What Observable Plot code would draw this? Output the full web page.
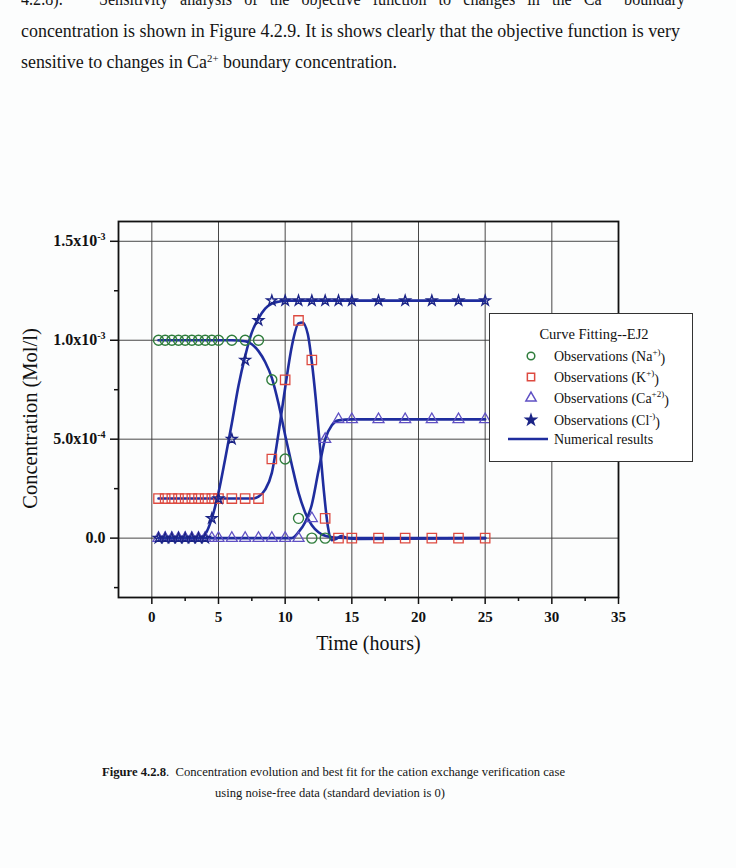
<!DOCTYPE html>
<html><head><meta charset="utf-8">
<script src="https://cdn.jsdelivr.net/npm/d3@7"></script>
<script src="https://cdn.jsdelivr.net/npm/@observablehq/plot@0.6"></script>
<style>
html,body{margin:0;padding:0;background:#fcfdfd;}
#page{position:relative;width:736px;height:868px;overflow:hidden;font-family:"Liberation Serif","Times New Roman",serif;color:#151515;}
.line{position:absolute;white-space:nowrap;transform-origin:0 50%;line-height:1;}
.line sup{font-size:60%;vertical-align:0.55em;line-height:0;}
#chart{position:absolute;left:0;top:200px;}
#legend{position:absolute;left:489px;top:313px;width:202px;height:147px;border:1.5px solid #333;background:#fff;}
</style></head><body><div id="page"><div id="chart"></div><div id="legend"></div></div>
<script>
// ---------- data ----------
const naTime = [0.5,1,1.5,2,2.5,3,3.5,4,4.5,5,6,7,8,9,10,11,12,13];
const naObs  = [1e-3,1e-3,1e-3,1e-3,1e-3,1e-3,1e-3,1e-3,1e-3,1e-3,1e-3,1e-3,1e-3,8e-4,4e-4,1e-4,0,0];
const kTime  = [0.5,1,1.5,2,2.5,3,3.5,4,4.5,5,6,7,8,9,10,11,12,13,14,15,17,19,21,23,25];
const kObs   = [2e-4,2e-4,2e-4,2e-4,2e-4,2e-4,2e-4,2e-4,2e-4,2e-4,2e-4,2e-4,2e-4,4e-4,8e-4,1.1e-3,9e-4,1e-4,0,0,0,0,0,0,0];
const caTime = [0.5,1,1.5,2,2.5,3,3.5,4,4.5,5,6,7,8,9,10,11,12,13,14,15,17,19,21,23,25];
const caObs  = [0,0,0,0,0,0,0,0,0,0,0,0,0,0,0,0,1e-4,5e-4,6e-4,6e-4,6e-4,6e-4,6e-4,6e-4,6e-4];
const clTime = [0.5,1,1.5,2,2.5,3,3.5,4,4.5,5,6,7,8,9,10,11,12,13,14,15,17,19,21,23,25];
const clObs  = [0,0,0,0,0,0,0,0,1e-4,2e-4,5e-4,9e-4,1.1e-3,1.2e-3,1.2e-3,1.2e-3,1.2e-3,1.2e-3,1.2e-3,1.2e-3,1.2e-3,1.2e-3,1.2e-3,1.2e-3,1.2e-3];

// numerical results
const naModelT = [0.5,6,7,7.5,8,8.5,9,9.5,10,10.5,11,11.5,12,12.5,13,14,15,25];
const naModelC = [1e-3,1e-3,0.995e-3,0.98e-3,0.945e-3,0.89e-3,0.81e-3,0.68e-3,0.52e-3,0.37e-3,0.23e-3,0.13e-3,0.065e-3,0.03e-3,0.012e-3,0.002e-3,0,0];
const kModelT = [0.5,7.5,8,8.5,9,9.5,10,10.5,11,11.3,11.7,12,12.3,12.6,12.9,13.2,13.5,13.8,14.2,14.7,15.5,25];
const kModelC = [2e-4,2e-4,2.1e-4,2.45e-4,3.3e-4,5.3e-4,7.6e-4,9.7e-4,1.085e-3,1.09e-3,1.03e-3,0.89e-3,0.7e-3,0.47e-3,0.24e-3,0.06e-3,-0.01e-3,-0.005e-3,0.01e-3,0,-0.004e-3,0];
const caModelT = [0.5,10.5,11,11.5,12,12.5,13,13.5,14,15,25];
const caModelC = [0,0,0.03e-3,0.08e-3,0.17e-3,0.34e-3,0.5e-3,0.57e-3,0.595e-3,0.6e-3,0.6e-3];
const clModelT = [0.5,3.5,4,4.5,5,5.5,6,6.5,7,7.5,8,8.5,9,9.5,10,11,25];
const clModelC = [0,0,0.02e-3,0.1e-3,0.23e-3,0.4e-3,0.58e-3,0.77e-3,0.92e-3,1.04e-3,1.11e-3,1.16e-3,1.185e-3,1.195e-3,1.2e-3,1.2e-3,1.2e-3];

const xTicks = [0,5,10,15,20,25,30,35];
const xMinor = [2.5,7.5,12.5,17.5,22.5,27.5,32.5];
const xGrid  = [0,5,10,15,20,25,30];
const yTicks = [0,5e-4,1e-3,1.5e-3];
const yTickBase = ["0.0","5.0x10","1.0x10","1.5x10"];
const yTickExp  = ["","-4","-3","-3"];
const yMinor = [-2.5e-4,2.5e-4,7.5e-4,1.25e-3];

const xTitle = "Time (hours)";
const yTitle = "Concentration (Mol/l)";
const legendTitle = "Curve Fitting--EJ2";
const legendLabels = ["Observations (Na|+)","Observations (K|+)","Observations (Ca|+2)","Observations (Cl|-)","Numerical results"];

const pageLines = [
  "4.2.8).&nbsp;&nbsp; Sensitivity analysis of the objective function to changes in the Ca<sup>2+</sup> boundary",
  "concentration is shown in Figure 4.2.9. It is shows clearly that the objective function is very",
  "sensitive to changes in Ca<sup>2+</sup> boundary concentration."
];
const captionLines = [
  "<b>Figure 4.2.8</b>.&nbsp; Concentration evolution and best fit for the cation exchange verification case",
  "using noise-free data (standard deviation is 0)"
];

// ---------- colours ----------
const cNa = "#2f7d3c", cK = "#dd4a40", cCa = "#5f50c4", cCl = "#1b2486", cLine = "#1f2d9e";

const tbl = (t, c) => t.map((d, i) => ({t: d, c: c[i]}));
const na = tbl(naTime, naObs), k = tbl(kTime, kObs), ca = tbl(caTime, caObs), cl = tbl(clTime, clObs);
const models = [tbl(naModelT, naModelC), tbl(kModelT, kModelC), tbl(caModelT, caModelC), tbl(clModelT, clModelC)];

const font = "Liberation Serif";
const chart = Plot.plot({
  width: 736, height: 480,
  marginLeft: 118, marginRight: 118, marginTop: 21, marginBottom: 83,
  x: {domain: [-2.5, 35]},
  y: {domain: [-3e-4, 1.6e-3]},
  style: {fontFamily: font, background: "transparent", color: "#111", overflow: "visible"},
  marks: [
    Plot.ruleX(xGrid, {stroke: "#333", strokeWidth: 0.9}),
    Plot.ruleY(yTicks, {stroke: "#333", strokeWidth: 0.9}),
    ...models.map(m => Plot.line(m, {x: "t", y: "c", curve: "monotone-x", stroke: cLine, strokeWidth: 2.6})),
    Plot.dot(na, {x: "t", y: "c", symbol: "circle", r: 5, stroke: cNa, strokeWidth: 1.4, fill: "none"}),
    Plot.dot(k, {x: "t", y: "c", symbol: "square", r: 5.3, stroke: cK, strokeWidth: 1.3, fill: "none"}),
    Plot.dot(ca, {x: "t", y: "c", symbol: "triangle", r: 4.1, stroke: cCa, strokeWidth: 1.3, fill: "none"}),
    Plot.dot(cl, {x: "t", y: "c", symbol: "star", r: 3.2, stroke: cCl, strokeWidth: 1.4, fill: "none"}),
    Plot.frame({stroke: "#111", strokeWidth: 1.8}),
    Plot.axisX({ticks: xTicks, tickSize: 7, tickPadding: 7, strokeWidth: 1.5, fontSize: 15, fontWeight: "bold", label: null}),
    Plot.axisX({ticks: xMinor, tickSize: 4, strokeWidth: 1.5, tickFormat: () => "", label: null}),
    Plot.axisY({ticks: yTicks, tickSize: 8, tickPadding: 5, strokeWidth: 1.5, fontSize: 16, fontWeight: "bold", label: null,
      tickFormat: d => yTickBase[yTicks.findIndex(v => Math.abs(v - d) < 1e-9)]}),
    Plot.axisY({ticks: yMinor, tickSize: 4, strokeWidth: 1.5, tickFormat: () => "", label: null}),
    Plot.text([xTitle], {text: d => d, frameAnchor: "bottom", dy: 52, fontSize: 20, fontFamily: font}),
    Plot.text([yTitle], {text: d => d, frameAnchor: "left", textAnchor: "middle", dx: -88, dy: 9, rotate: -90, fontSize: 20.5, fontFamily: font})
  ]
});
document.getElementById("chart").appendChild(chart);

// superscript exponents on y tick labels
d3.select(chart).selectAll('g[aria-label="y-axis tick label"] text').each(function() {
  const t = this.textContent;
  const i = yTickBase.indexOf(t);
  if (i >= 0 && yTickExp[i]) {
    d3.select(this).append("tspan").attr("dy", "-0.6em").attr("font-size", "10px").text(yTickExp[i]);
  }
});

// ---------- legend ----------
const lg = d3.select("#legend").append("svg").attr("width", 202).attr("height", 147)
  .style("font-family", font).style("position", "absolute").style("left", 0).style("top", 0);
lg.append("text").attr("x", 104).attr("y", 20).attr("text-anchor", "middle").attr("dominant-baseline", "central")
  .attr("font-size", 14.5).attr("fill", "#111").text(legendTitle);
const rowsY = [42, 63, 84, 106, 125];
const syms = [
  {s: d3.symbolCircle, r: 3.8, c: cNa, fill: "none"},
  {s: d3.symbolSquare, r: 4.1, c: cK, fill: "none"},
  {s: d3.symbolTriangle, r: 3.8, c: cCa, fill: "none"},
  {s: d3.symbolStar, r: 3.2, c: cCl, fill: cCl}
];
syms.forEach((o, i) => {
  lg.append("path").attr("d", d3.symbol(o.s, Math.PI * o.r * o.r)())
    .attr("transform", `translate(41,${rowsY[i]})`).attr("fill", o.fill).attr("stroke", o.c).attr("stroke-width", 1.5);
});
lg.append("line").attr("x1", 18).attr("x2", 58).attr("y1", rowsY[4]).attr("y2", rowsY[4]).attr("stroke", cLine).attr("stroke-width", 2.6);
legendLabels.forEach((l, i) => {
  const [base, sup] = l.split("|");
  const t = lg.append("text").attr("x", 64).attr("y", rowsY[i]).attr("dominant-baseline", "central")
    .attr("font-size", 14).attr("fill", "#111");
  t.append("tspan").text(base);
  if (sup) {
    t.append("tspan").attr("dy", "-0.45em").attr("font-size", "9px").text(sup);
    t.append("tspan").attr("dy", "0.45em").text(")");
  }
});

// ---------- page text ----------
const page = document.getElementById("page");
function addLine(html, left, cy, width, fs, ws) {
  const d = document.createElement("div");
  d.className = "line";
  d.style.left = left + "px";
  d.style.top = (cy - fs / 2) + "px";
  d.style.fontSize = fs + "px";
  if (ws) d.style.wordSpacing = ws + "px";
  d.innerHTML = html;
  page.appendChild(d);
  const w = d.getBoundingClientRect().width;
  d.style.transform = `scaleX(${width / w})`;
}
addLine(pageLines[0], 21, -1, 664, 18, 9);
addLine(pageLines[1], 21, 31, 659, 18);
addLine(pageLines[2], 21, 62, 376, 18);
addLine(captionLines[0], 102, 771, 463, 13);
addLine(captionLines[1], 215, 792, 230, 13);
</script>
</body></html>
